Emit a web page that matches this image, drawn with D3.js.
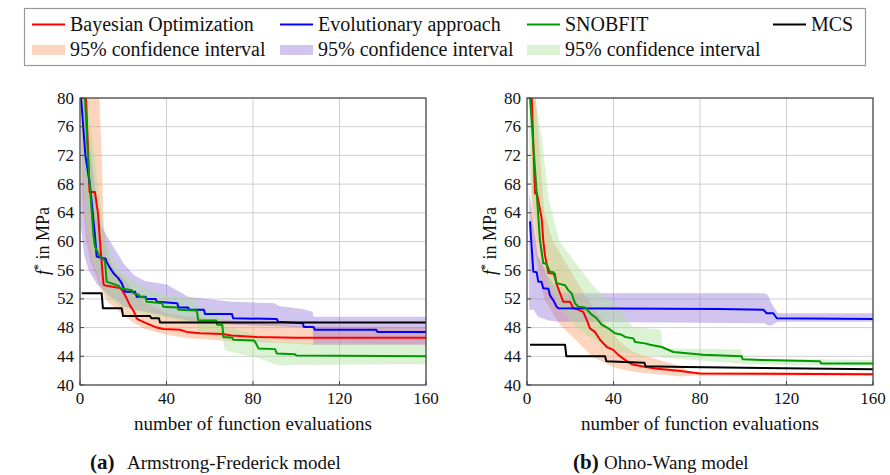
<!DOCTYPE html>
<html>
<head>
<meta charset="utf-8">
<script src="https://cdn.jsdelivr.net/npm/d3@7"></script>
</head>
<body style="margin:0">
<svg id="chart" width="890" height="475" font-family="Liberation Serif"></svg>
<script>
// x ticks / y ticks
const xTicks = [0, 40, 80, 120, 160]
const yTicks = [40, 44, 48, 52, 56, 60, 64, 68, 72, 76, 80]

// legend
const legendNames = ["Bayesian Optimization", "Evolutionary approach", "SNOBFIT", "MCS"]
const bandName = "95% confidence interval"

// ---- (a) Armstrong-Frederick: [x, f*]
const afBayes = [[2.8,80],[4.4,66.9],[6.9,66.9],[8.3,64],[9.2,60.2],[10.8,54.2],[11.2,53.9],[18.5,53.5],[19.5,53.2],[20.8,52.5],[22,51.8],[23.1,51.1],[25,50.2],[26.2,49.3],[27,49.1],[30.8,48.6],[35.5,48.0],[38.5,47.8],[46.2,47.7],[49.3,47.4],[55.5,47.2],[66,47.1],[70,46.9],[81.7,46.7],[100,46.6],[160,46.6]]
const afEvo = [[0.5,80],[2.5,72],[4.6,67.9],[6.9,60.9],[7.7,57.9],[11.8,57.6],[12.3,57.2],[13.5,56.5],[15.4,55.6],[17.7,54.9],[19.3,54.2],[20.8,53.0],[25.5,53.0],[26.2,52.3],[30.3,52.3],[30.8,52.0],[35,52.0],[35.5,51.6],[40,51.5],[45,51.4],[45.5,50.8],[50,50.8],[50.5,50.5],[57.3,50.5],[57.8,49.9],[70.3,49.9],[70.8,49.3],[91,49.2],[91.6,48.8],[103,48.6],[103.5,48.1],[108,48.1],[108.6,47.7],[137,47.7],[137.5,47.4],[160,47.4]]
const afSnob = [[2.3,80],[4,70],[6.2,60.9],[6.9,59.3],[9.2,57.9],[11,57.5],[11.6,57.2],[12.3,54.4],[18,53.8],[18.5,53.5],[24,53.2],[24.6,52.8],[27.2,52.6],[27.7,52.3],[30.3,52.2],[30.8,51.6],[38,51.4],[38.5,50.9],[45,50.8],[45.5,50.5],[54,50.4],[54.7,49.0],[63,49.0],[63.4,48.4],[65.8,48.4],[66.3,46.7],[70.5,46.6],[70.9,46.3],[80.5,46.2],[81.2,45.9],[82.5,45.1],[90.2,45.0],[91,44.4],[99.4,44.3],[100,44.1],[160,44.0]]
const afMcs = [[0.8,52.8],[10,52.8],[10.6,50.7],[19.3,50.7],[19.9,49.6],[32.4,49.6],[33,49.3],[36.5,49.3],[37,48.7],[160,48.7]]
// bands: [x, lower, upper]
const afBayesBand = [[1,66,80],[3,60,80],[5,57,80],[9,54,80],[10,53,72],[11,52.5,62],[13,51.5,58],[16,50.8,56],[20,49.8,55],[25,48.6,53],[30,47.8,51.5],[40,47.0,50],[50,46.5,49.5],[70,46.1,49],[90,45.9,48.5],[108,45.6,48.2],[160,45.6,48.1]]
const afEvoBand = [[0.5,62,80],[2,58,80],[4,56,75],[6,55,70],[8,54,65],[10,53.5,62],[13,52.5,60.5],[16,52,59],[20,51,57],[25,50.5,55.3],[30,50.2,54.5],[40,49.6,54],[50,49,52.3],[70,48.4,51.6],[90,48.2,51.4],[92,48.2,51],[103,48.0,50.6],[107.5,48.0,50.2],[108,45.6,49.5],[160,45.6,49.5]]
const afSnobBand = [[1,70,80],[3,62,80],[6,57,74],[9,55,66],[12,52.5,60],[18,51,56],[25,50.5,54.5],[31,49.8,53.5],[40,49.3,52.5],[54,48.5,52],[55,47.3,50.8],[63,46.8,50.3],[66,46.5,50],[67,44.8,48.2],[82,43.8,47],[91,42.8,46],[160,42.9,45.6]]

// ---- (b) Ohno-Wang
const owBayes = [[2.2,80],[3.7,66.7],[4.6,66.7],[6.8,63.2],[7.5,60.2],[8.3,58.1],[9.9,55.6],[12.9,55.5],[13.5,54.2],[16.8,51.6],[19.9,51.6],[21.4,50.7],[23.7,50.5],[26.0,50.2],[27.6,49.1],[29.1,47.9],[31.4,47.4],[33.8,46.3],[36.9,45.3],[39.9,44.9],[42.2,44.2],[45.3,43.5],[48.4,42.9],[53,42.6],[59.2,42.3],[70,42.0],[80,41.6],[160,41.5]]
const owEvo = [[1.4,62.8],[2.9,55.8],[4.5,55.7],[5.2,54.4],[6.7,54.4],[7.5,53.5],[9.9,53.4],[10.6,52.5],[12.2,51.8],[13.7,50.9],[14.5,50.7],[89,50.6],[109.3,50.5],[110.8,50.0],[113.9,50.0],[115.5,49.3],[160,49.2]]
const owSnob = [[1.4,80],[6.0,60.2],[7.5,57.0],[8.9,56.9],[10.6,55.8],[12.2,55.7],[13.7,54.2],[17.6,53.9],[19.1,53.2],[20.6,52.8],[22.2,51.4],[23.7,50.9],[26.8,50.8],[29.9,49.8],[32.2,49.3],[34.5,48.4],[37.6,47.9],[40.7,47.2],[43.8,47.0],[45.3,46.7],[49.2,46.5],[50,46.0],[54.6,45.8],[56.9,45.6],[62.3,45.3],[67.7,44.6],[81.5,44.2],[99.3,44.0],[99.7,43.6],[108.5,43.5],[135.5,43.3],[136,43.0],[160,43.0]]
const owMcs = [[1.4,45.6],[17.6,45.6],[18.2,44.0],[36.1,44.0],[36.7,43.3],[45,43.2],[54.3,43.1],[54.8,42.6],[73,42.5],[160,42.2]]
const owBayesBand = [[2,62,80],[4,58,80],[6,55,72],[8,52,64],[10,51,62],[12,50,60],[15,48.5,58.5],[20,47,56],[25,45.5,53.5],[30,44,51],[35,43.2,49],[40,42.5,47],[45,42.1,45.5],[50,41.8,44.5],[60,41.5,43.6],[72,41.2,42.5],[75,41.3,41.8],[160,41.3,41.7]]
const owEvoBand = [[1,50.5,67],[3,50.5,62],[5,49.5,58],[10,49,55],[15,48.8,52.8],[110,48.6,52.8],[111.5,48.3,52.5],[113,48.3,51.4],[116,48.8,50],[160,48.8,50]]
const owSnobBand = [[1,70,80],[4,62,80],[7,57,74],[10,54,66],[15,51,60],[20,49,58],[25,47.5,56],[30,46.5,54],[35,45.5,52.5],[40,44.8,51.5],[49,44.3,48.1],[62,44.0,47.7],[62.5,43.8,45.1],[99,43,45],[100,42.9,43.7],[160,42.6,43.5]]

const colors = { bayes: "#ff0000", evo: "#0000ff", snob: "#009900", mcs: "#000000" }
const bandColors = { bayes: "#f79a63", evo: "#9173d7", snob: "#ace198" }
const bandOpacity = 0.42

const svg = d3.select("#chart")

// serif text helper (font set as attribute and style)
function label(sel, size) {
    return sel.attr("font-family", "Liberation Serif")
        .style("font-family", '"Liberation Serif"')
        .attr("font-size", size)
        .style("font-size", size + "px")
        .attr("fill", "#111")
}

function drawPanel(left, id, series, caption) {
    const top = 98, bottom = 385, right = left + 346
    const x = d3.scaleLinear().domain([0, 160]).range([left, right])
    const y = d3.scaleLinear().domain([40, 80]).range([bottom, top])

    const g = svg.append("g")
    g.append("clipPath").attr("id", "clip" + id)
        .append("rect").attr("x", left).attr("y", top)
        .attr("width", right - left).attr("height", bottom - top)

    // grid
    g.selectAll(".gx").data(xTicks).enter().append("line")
        .attr("x1", d => x(d)).attr("x2", d => x(d))
        .attr("y1", top).attr("y2", bottom)
        .attr("stroke", "#cfcfcf").attr("stroke-width", 1)
    g.selectAll(".gy").data(yTicks).enter().append("line")
        .attr("x1", left).attr("x2", right)
        .attr("y1", d => y(d)).attr("y2", d => y(d))
        .attr("stroke", "#cfcfcf").attr("stroke-width", 1)

    const plot = g.append("g").attr("clip-path", "url(#clip" + id + ")")
    const area = d3.area().x(d => x(d[0])).y0(d => y(d[1])).y1(d => y(d[2]))
    const line = d3.line().x(d => x(d[0])).y(d => y(d[1]))

    series.bands.forEach(b => {
        plot.append("path").datum(b.data).attr("d", area)
            .attr("fill", bandColors[b.key]).attr("fill-opacity", bandOpacity)
    })
    series.lines.forEach(l => {
        plot.append("path").datum(l.data).attr("d", line)
            .attr("fill", "none").attr("stroke", colors[l.key])
            .attr("stroke-width", 2).attr("stroke-linejoin", "round")
    })

    // frame
    g.append("rect").attr("x", left).attr("y", top)
        .attr("width", right - left).attr("height", bottom - top)
        .attr("fill", "none").attr("stroke", "#444").attr("stroke-width", 1.2)

    // ticks
    g.selectAll(".tx").data(xTicks).enter().append("line")
        .attr("x1", d => x(d)).attr("x2", d => x(d))
        .attr("y1", bottom).attr("y2", bottom - 4).attr("stroke", "#444")
    g.selectAll(".ty").data(yTicks).enter().append("line")
        .attr("x1", left).attr("x2", left + 4)
        .attr("y1", d => y(d)).attr("y2", d => y(d)).attr("stroke", "#444")

    label(g.selectAll(".lx").data(xTicks).enter().append("text"), 17)
        .attr("x", d => x(d)).attr("y", 404)
        .attr("text-anchor", "middle")
        .text(d => d)
    label(g.selectAll(".ly").data(yTicks).enter().append("text"), 17)
        .attr("x", left - 6).attr("y", d => y(d) + 5.5)
        .attr("text-anchor", "end")
        .text(d => d)

    // axis labels
    label(g.append("text"), 19).attr("x", (left + right) / 2).attr("y", 430)
        .attr("text-anchor", "middle")
        .text("number of function evaluations")
    const yl = label(g.append("text"), 18)
        .attr("transform", `translate(${left - 31},241) rotate(-90)`)
        .attr("text-anchor", "middle")
    yl.append("tspan").attr("font-style", "italic").style("font-style", "italic").text("f")
    yl.append("tspan").attr("dy", -7).attr("font-size", 12).style("font-size", "12px").text("*")
    yl.append("tspan").attr("dy", 7).text(" in MPa")

    // caption
    label(g.append("text"), 21).attr("x", caption.x).attr("y", 469)
        .attr("font-weight", "bold").style("font-weight", "bold")
        .text(caption.tag)
    label(g.append("text"), caption.size).attr("x", caption.tx).attr("y", 469)
        .text(caption.text)
}

drawPanel(80, "a", {
    bands: [{ key: "bayes", data: afBayesBand }, { key: "evo", data: afEvoBand }, { key: "snob", data: afSnobBand }],
    lines: [{ key: "bayes", data: afBayes }, { key: "evo", data: afEvo }, { key: "snob", data: afSnob }, { key: "mcs", data: afMcs }]
}, { x: 90, tx: 127, size: 19, tag: "(a)", text: "Armstrong-Frederick model" })

drawPanel(527, "b", {
    bands: [{ key: "bayes", data: owBayesBand }, { key: "evo", data: owEvoBand }, { key: "snob", data: owSnobBand }],
    lines: [{ key: "bayes", data: owBayes }, { key: "evo", data: owEvo }, { key: "snob", data: owSnob }, { key: "mcs", data: owMcs }]
}, { x: 573, tx: 604, size: 19, tag: "(b)", text: "Ohno-Wang model" })

// legend
const leg = svg.append("g")
leg.append("rect").attr("x", 24.5).attr("y", 8.5).attr("width", 841).attr("height", 57)
    .attr("fill", "#fff").attr("stroke", "#999").attr("stroke-width", 1.2)
const legX = [32, 280, 527, 773]
const keys = ["bayes", "evo", "snob", "mcs"]
keys.forEach((k, i) => {
    leg.append("line").attr("x1", legX[i]).attr("x2", legX[i] + 33)
        .attr("y1", 24.5).attr("y2", 24.5)
        .attr("stroke", colors[k]).attr("stroke-width", 2)
    label(leg.append("text"), 20).attr("x", legX[i] + 38).attr("y", 30.5)
        .text(legendNames[i])
    if (k !== "mcs") {
        leg.append("rect").attr("x", legX[i]).attr("y", 45)
            .attr("width", 33).attr("height", 10)
            .attr("fill", bandColors[k]).attr("fill-opacity", bandOpacity)
        label(leg.append("text"), 20).attr("x", legX[i] + 38).attr("y", 56)
            .text(bandName)
    }
})
</script>
</body>
</html>
